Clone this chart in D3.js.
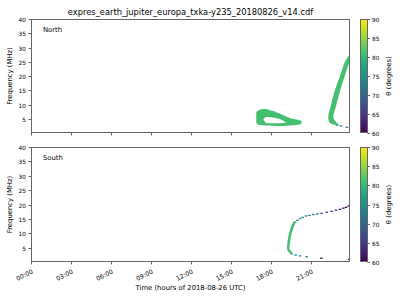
<!DOCTYPE html>
<html>
<head>
<meta charset="utf-8">
<script src="https://cdn.jsdelivr.net/npm/d3@7"></script>
<style>
  body { margin: 0; background: #fff; }
  svg { display: block; font-family: "DejaVu Sans", sans-serif; }
</style>
</head>
<body>
<div id="chart"></div>
<script>
// Tick values and labels
const timeTicks = [0, 3, 6, 9, 12, 15, 18, 21];
const timeLabels = ["00:00", "03:00", "06:00", "09:00", "12:00", "15:00", "18:00", "21:00"];
const freqTicks = [5, 10, 15, 20, 25, 30, 35, 40];
const thetaTicks = [60, 65, 70, 75, 80, 85, 90];

// North: loop, upper arm [hour, fLow, fHigh]
const northLoopUpper = [
  [16.9, 3.3, 7.4], [17.15, 3.4, 8.2], [17.4, 4.6, 8.4], [17.65, 5.6, 8.4],
  [17.9, 5.5, 8.0], [18.15, 5.4, 7.7], [18.4, 5.2, 7.3], [18.65, 4.9, 6.8],
  [18.9, 4.4, 6.3], [19.15, 3.6, 5.8], [19.4, 3.2, 5.3], [19.65, 3.1, 5.0],
  [19.9, 3.2, 4.7], [20.15, 3.4, 4.5], [20.3, 3.8, 4.2]
];
// North: loop, lower arm [hour, fLow, fHigh]
const northLoopLower = [
  [17.0, 2.9, 4.5], [17.4, 2.7, 4.7], [17.65, 2.6, 3.5], [17.9, 2.6, 3.4],
  [18.4, 2.5, 3.4], [18.9, 2.5, 3.5], [19.4, 2.6, 3.6], [19.9, 2.8, 3.6],
  [20.15, 3.0, 3.8], [20.3, 3.4, 3.8]
];
// North: rising hook [freq, hourStart, hourEnd]
const northHook = [
  [2.9, 22.7, 23.1], [3.3, 22.5, 23.0], [4.0, 22.35, 22.85], [5.7, 22.3, 22.68],
  [9.2, 22.47, 22.87], [15.1, 22.8, 23.2], [20.9, 23.25, 23.6], [25.6, 23.62, 23.98],
  [27.3, 23.85, 24.2]
];
// North: isolated cells [hour, freq, theta]
const northDots = [
  [22.95, 2.7, 76], [23.25, 2.45, 74], [23.7, 2.0, 72]
];
// South: thick arc [freq, hourStart, hourEnd]
const southBand = [
  [3.0, 19.45, 19.62], [3.6, 19.3, 19.55], [4.8, 19.2, 19.38], [6.5, 19.23, 19.43],
  [8.8, 19.3, 19.5], [11.1, 19.43, 19.63], [13.5, 19.63, 19.83], [13.9, 19.7, 19.86]
];
// South: isolated cells [hour, freq, theta]
const southDots = [
  [19.8, 13.9, 77], [19.98, 14.5, 76], [20.18, 15.1, 75], [20.38, 15.5, 74],
  [20.63, 16.0, 74], [20.88, 16.2, 73], [21.18, 16.5, 72], [21.48, 16.7, 70],
  [21.8, 16.9, 68], [22.18, 17.3, 66], [22.55, 17.6, 65], [22.88, 18.0, 63],
  [23.18, 18.3, 62], [23.43, 18.7, 62], [23.63, 19.0, 61], [23.83, 19.5, 61],
  [19.55, 2.8, 76], [19.85, 2.4, 75], [20.18, 2.1, 74], [20.68, 1.8, 72],
  [21.78, 1.3, 62], [23.88, 0.9, 61]
];
const northLoopTheta = 81;
const northHookTheta = 81;
const southBandTheta = 81;

const width = 400, height = 300;
const left = 31, right = 350;
const panels = [
  { name: "North", top: 19, bottom: 133 },
  { name: "South", top: 147, bottom: 262 }
];
const axisColor = "#666";
const tickFont = 5.8;
const labelFont = 6.85;

const color = v => d3.interpolateViridis((v - 60) / 30);

const svg = d3.select("#chart").append("svg")
  .attr("width", width)
  .attr("height", height);

const x = d3.scaleLinear().domain([0, 23.93]).range([left, right]);

const defs = svg.append("defs");
const grad = defs.append("linearGradient")
  .attr("id", "viridis")
  .attr("x1", 0).attr("y1", 1).attr("x2", 0).attr("y2", 0);
d3.range(0, 1.0001, 0.05).forEach(t => {
  grad.append("stop").attr("offset", t).attr("stop-color", d3.interpolateViridis(t));
});

// title
svg.append("text")
  .attr("x", (left + right) / 2)
  .attr("y", 14.5)
  .attr("text-anchor", "middle")
  .attr("font-size", 8.3)
  .attr("fill", "#000")
  .text("expres_earth_jupiter_europa_txka-y235_20180826_v14.cdf");

panels.forEach((p, i) => {
  const y = d3.scaleLinear().domain([0, 40]).range([p.bottom, p.top]);
  const g = svg.append("g");

  defs.append("clipPath").attr("id", "clip" + i)
    .append("rect")
    .attr("x", left).attr("y", p.top)
    .attr("width", right - left).attr("height", p.bottom - p.top);

  const plot = g.append("g").attr("clip-path", `url(#clip${i})`);

  const bandX = d3.area()
    .x(d => x(d[0])).y0(d => y(d[1])).y1(d => y(d[2]))
    .curve(d3.curveMonotoneX);
  const bandY = d3.area()
    .y(d => y(d[0])).x0(d => x(d[1])).x1(d => x(d[2]))
    .curve(d3.curveMonotoneY);

  const drawDots = dots => {
    plot.selectAll(null)
      .data(dots)
      .join("rect")
      .attr("x", d => x(d[0]) - 1.3)
      .attr("y", d => y(d[1]) - 0.7)
      .attr("width", 2.6)
      .attr("height", 1.3)
      .attr("fill", d => color(d[2]));
  };

  if (i === 0) {
    plot.append("path").datum(northLoopUpper).attr("d", bandX).attr("fill", color(northLoopTheta));
    plot.append("path").datum(northLoopLower).attr("d", bandX).attr("fill", color(northLoopTheta));
    plot.append("path").datum(northHook).attr("d", bandY).attr("fill", color(northHookTheta));
    drawDots(northDots);
  } else {
    plot.append("path").datum(southBand).attr("d", bandY).attr("fill", color(southBandTheta));
    drawDots(southDots);
  }

  // frame
  g.append("rect")
    .attr("x", left + 0.5).attr("y", p.top + 0.5)
    .attr("width", right - left - 1).attr("height", p.bottom - p.top - 1)
    .attr("fill", "none").attr("stroke", axisColor).attr("stroke-width", 1);

  // y axis
  const yAxis = g.append("g");
  freqTicks.forEach(f => {
    const yy = Math.round(y(f)) + 0.5;
    yAxis.append("line")
      .attr("x1", left - 2.5).attr("x2", left)
      .attr("y1", yy).attr("y2", yy)
      .attr("stroke", axisColor);
    yAxis.append("text")
      .attr("x", left - 5).attr("y", yy)
      .attr("dy", "0.35em")
      .attr("text-anchor", "end")
      .attr("font-size", tickFont)
      .text(f);
  });

  // x axis ticks
  timeTicks.forEach((t, k) => {
    const xx = Math.round(x(t)) + 0.5;
    g.append("line")
      .attr("x1", xx).attr("x2", xx)
      .attr("y1", p.bottom).attr("y2", p.bottom + 2.5)
      .attr("stroke", axisColor);
    if (i === 1) {
      g.append("text")
        .attr("transform", `translate(${xx + 2},${p.bottom + 11}) rotate(-27)`)
        .attr("text-anchor", "end")
        .attr("font-size", 6.2)
        .text(timeLabels[k]);
    }
  });

  // y label
  g.append("text")
    .attr("transform", `translate(12,${(p.top + p.bottom) / 2}) rotate(-90)`)
    .attr("text-anchor", "middle")
    .attr("font-size", labelFont)
    .text("Frequency (MHz)");

  // hemisphere label
  g.append("text")
    .attr("x", 43).attr("y", p.top + 12.5)
    .attr("font-size", labelFont)
    .text(p.name);

  // colorbar
  const cb = d3.scaleLinear().domain([60, 90]).range([p.bottom, p.top]);
  g.append("rect")
    .attr("x", 360.5).attr("y", p.top + 0.5)
    .attr("width", 7).attr("height", p.bottom - p.top - 1)
    .attr("fill", "url(#viridis)")
    .attr("stroke", axisColor);
  thetaTicks.forEach(v => {
    const yy = Math.round(cb(v)) + 0.5;
    g.append("line")
      .attr("x1", 367.5).attr("x2", 370)
      .attr("y1", yy).attr("y2", yy)
      .attr("stroke", axisColor);
    g.append("text")
      .attr("x", 372).attr("y", yy)
      .attr("dy", "0.35em")
      .attr("font-size", tickFont)
      .text(v);
  });
  g.append("text")
    .attr("transform", `translate(390.5,${(p.top + p.bottom) / 2}) rotate(-90)`)
    .attr("text-anchor", "middle")
    .attr("font-size", labelFont)
    .text("θ (degrees)");
});

// x label
svg.append("text")
  .attr("x", (left + right) / 2)
  .attr("y", 289.5)
  .attr("text-anchor", "middle")
  .attr("font-size", labelFont)
  .text("Time (hours of 2018-08-26 UTC)");
</script>
</body>
</html>
